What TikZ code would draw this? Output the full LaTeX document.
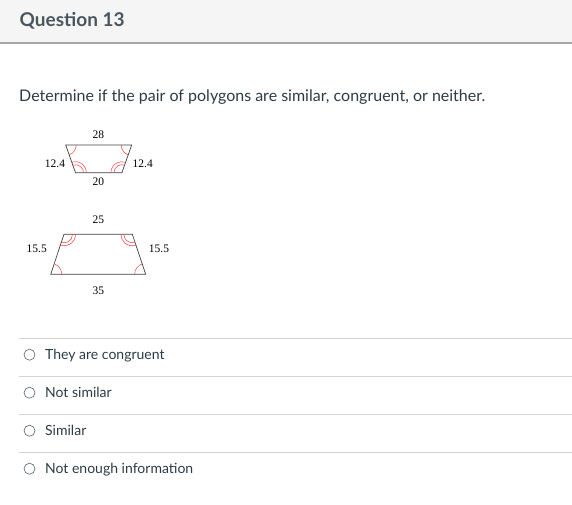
\documentclass[tikz,border=0pt]{standalone}
\usepackage{fontspec}
\setmainfont{Lato}
\newfontfamily\labelfont{Liberation Serif}
\usepackage{xcolor}
\usepackage{tikz}
\usetikzlibrary{positioning,calc}
\definecolor{headbg}{HTML}{F5F5F5}
\definecolor{headline}{HTML}{A8A8A8}
\definecolor{rule}{HTML}{D0D5D8}
\definecolor{ink}{HTML}{2D3B45}
\definecolor{titleink}{HTML}{4A565E}
\definecolor{arcred}{HTML}{F03C3C}

\begin{document}
\begin{tikzpicture}[x=1pt, y=-1pt,
    side/.style={font=\labelfont\fontsize{11.5}{13}\selectfont, inner sep=0pt},
    edge/.style={draw=black!75, line width=0.7pt},
    anglearc/.style={draw=arcred, line width=0.5pt},
    answer/.style={anchor=base west, inner sep=0pt, text=ink, font=\fontsize{14}{17}\selectfont},
    radio/.style={circle, draw=ink!80, line width=0.6pt, minimum size=11pt, inner sep=0pt}]
    \useasboundingbox (0,0) rectangle (572,504);

    % header
    \fill[headbg] (0,0) rectangle (572,43);
    \draw[headline, line width=1.2pt] (0,43) -- (572,43);
    \node[anchor=base west, inner sep=0pt, text=titleink, font=\bfseries\fontsize{19}{22}\selectfont] (title) at (19.5,26.5) {Question 13};
    \node[anchor=base west, inner sep=0pt, text=ink, font=\fontsize{16}{19}\selectfont] (ask) at (19,101) {Determine if the pair of polygons are similar, congruent, or neither.};

    % first trapezoid
    \coordinate (a1) at (65.7,145); \coordinate (b1) at (131.7,145);
    \coordinate (c1) at (121.9,172.7); \coordinate (d1) at (75.5,172.7);
    \draw[edge] (a1) -- (b1) -- (c1) -- (d1) -- cycle;
    \draw[anglearc] (a1) ++(0:10.5) arc[start angle=0, end angle=70.5, radius=10.5];
    \draw[anglearc] (b1) ++(109.5:10.5) arc[start angle=109.5, end angle=180, radius=10.5];
    \foreach \r in {8,11} {
        \draw[anglearc] (d1) ++(-109.5:\r) arc[start angle=-109.5, end angle=0, radius=\r];
        \draw[anglearc] (c1) ++(180:\r) arc[start angle=180, end angle=289.5, radius=\r];
    }
    \node[side] (top1) at (98.3,135) {28};
    \node[side] (left1) at (55,164) {12.4};
    \node[side] (right1) at (142.7,164) {12.4};
    \node[side] (base1) at (98.3,182) {20};

    % second trapezoid
    \coordinate (a2) at (64,234.3); \coordinate (b2) at (132.3,234.3);
    \coordinate (c2) at (145.7,274.3); \coordinate (d2) at (50.7,274.3);
    \draw[edge] (a2) -- (b2) -- (c2) -- (d2) -- cycle;
    \foreach \r in {8.5,11.5} {
        \draw[anglearc] (a2) ++(0:\r) arc[start angle=0, end angle=108.4, radius=\r];
        \draw[anglearc] (b2) ++(71.6:\r) arc[start angle=71.6, end angle=180, radius=\r];
    }
    \draw[anglearc] (d2) ++(-71.6:11) arc[start angle=-71.6, end angle=0, radius=11];
    \draw[anglearc] (c2) ++(180:11) arc[start angle=180, end angle=251.6, radius=11];
    \node[side] (top2) at (98.3,220) {25};
    \node[side] (left2) at (36.7,248.3) {15.5};
    \node[side] (right2) at (159,248.3) {15.5};
    \node[side] (base2) at (98.3,291) {35};

    % answers
    \foreach \y/\txt [count=\i] in {338/They are congruent, 376/Not similar, 414/Similar, 452/Not enough information} {
        \draw[rule, line width=0.8pt] (19,\y) -- (572,\y);
        \node[radio] (radio\i) at (29.5,\y+16.7) {};
        \node[answer] (choice\i) at (45,\y+21) {\txt};
    }
\end{tikzpicture}
\end{document}
